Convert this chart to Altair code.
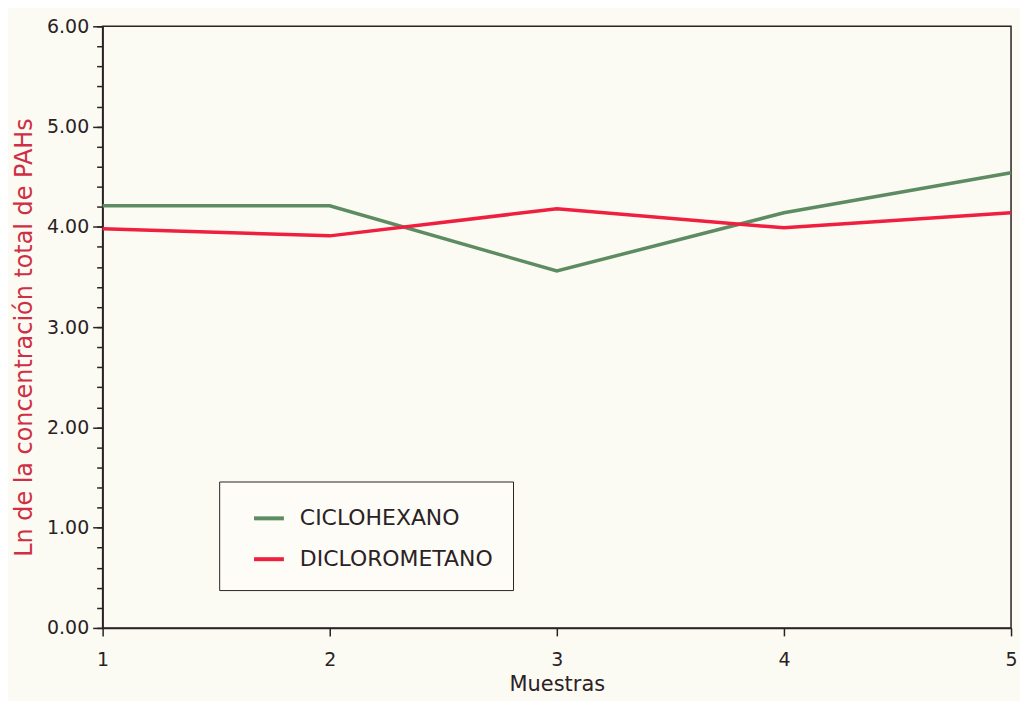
import altair as alt
import pandas as pd

muestras = [1, 2, 3, 4, 5]
ciclohexano = [4.21, 4.21, 3.56, 4.14, 4.54]
diclorometano = [3.98, 3.91, 4.18, 3.99, 4.14]
series = ["CICLOHEXANO", "DICLOROMETANO"]
colors = ["#5e8c62", "#ef1f3f"]
y_major = [0, 1, 2, 3, 4, 5, 6]
y_minor = [0.0, 0.2, 0.4, 0.6, 0.8, 1.0, 1.2, 1.4, 1.6, 1.8, 2.0, 2.2, 2.4, 2.6, 2.8,
           3.0, 3.2, 3.4, 3.6, 3.8, 4.0, 4.2, 4.4, 4.6, 4.8, 5.0, 5.2, 5.4, 5.6, 5.8, 6.0]

rows = []
for name, vals in zip(series, [ciclohexano, diclorometano]):
    for m, v in zip(muestras, vals):
        rows.append({"Muestra": m, "Valor": v, "Disolvente": name})
df = pd.DataFrame(rows)

FONT = "DejaVu Sans"
DARK = "#2a2224"

xscale = alt.Scale(domain=[1, 5], nice=False, zero=False)
yscale = alt.Scale(domain=[0, 6], nice=False)

x_axis = alt.Axis(values=muestras, format="d", title="Muestras", grid=False,
                  tickSize=8, labelPadding=15, labelFontSize=19,
                  titleFontSize=21, titlePadding=4, titleFontWeight="normal",
                  labelColor=DARK, titleColor=DARK, labelFlush=False)

base = alt.Chart(df)

minor = base.mark_line(opacity=0).encode(
    x=alt.X("Muestra:Q", scale=xscale, axis=x_axis),
    y=alt.Y("Valor:Q", scale=yscale,
            axis=alt.Axis(orient="left", values=y_minor, labels=False, title=None,
                          tickSize=6, domain=False, grid=False)),
)

lines = base.mark_line(strokeWidth=3.5).encode(
    x=alt.X("Muestra:Q", scale=xscale, axis=x_axis),
    y=alt.Y("Valor:Q", scale=yscale,
            axis=alt.Axis(orient="left", values=y_major, format=".2f",
                          title="Ln de la concentración total de PAHs", grid=False,
                          tickSize=10, labelPadding=4, labelFontSize=19,
                          titleFontSize=24, titlePadding=10, titleFontWeight="normal",
                          titleY=312,
                          labelColor=DARK, titleColor="#cf2f45")),
    color=alt.Color("Disolvente:N",
                    scale=alt.Scale(domain=series, range=colors),
                    legend=alt.Legend(orient="none", legendX=117, legendY=457,
                                      title=None, symbolType="stroke",
                                      symbolSize=900, symbolStrokeWidth=4,
                                      symbolOffset=13, labelLimit=500,
                                      labelFontSize=22, labelColor=DARK,
                                      labelOffset=14, rowPadding=13,
                                      padding=20, fillColor="#fdfcf6",
                                      strokeColor=DARK, labelFont=FONT)),
)

chart = alt.layer(minor, lines).resolve_axis(y="independent").properties(
    width=912, height=604,
    autosize=alt.AutoSizeParams(type="none"),
    padding={"left": 95, "top": 17, "right": 9, "bottom": 72},
    background="#fcfbf3",
).configure_view(
    stroke=DARK, strokeWidth=1.5
).configure_axis(
    domainColor=DARK, domainWidth=1.5, tickColor=DARK, tickWidth=1.5,
    labelFont=FONT, titleFont=FONT
)

chart.save("out.html", embed_options={"renderer": "svg", "actions": False})
